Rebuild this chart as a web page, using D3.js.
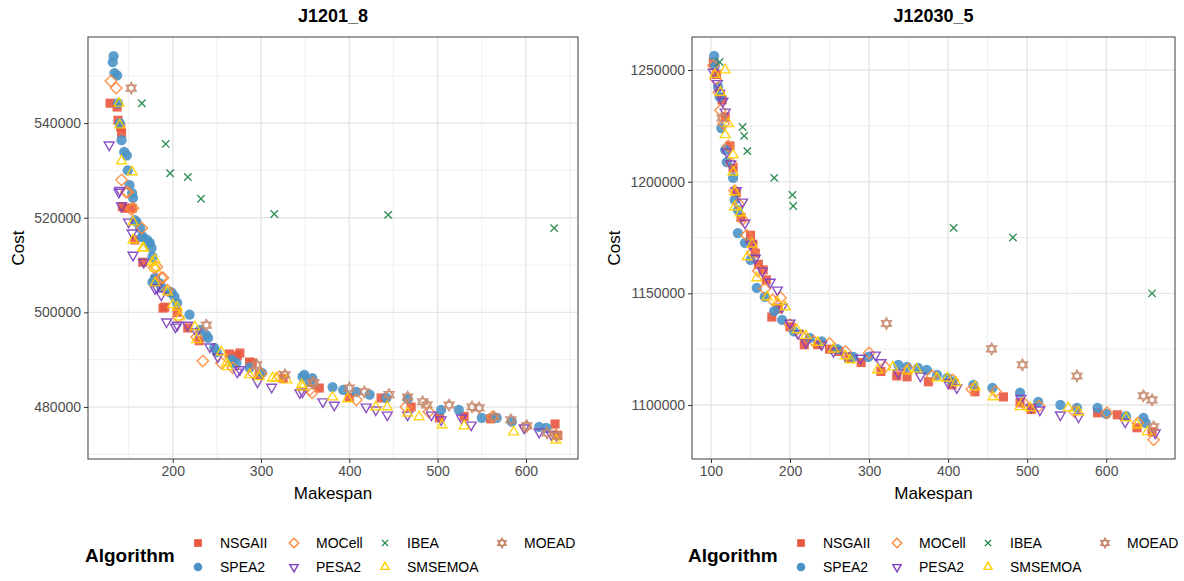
<!DOCTYPE html>
<html>
<head>
<meta charset="utf-8">
<script src="https://cdn.jsdelivr.net/npm/d3@7"></script>
<style>
  body { margin: 0; background: #fff; }
  svg { font-family: "Liberation Sans", Arial, sans-serif; }
</style>
</head>
<body>
<script>
//Data: [makespan, cost] per algorithm and instance
const algorithms = ["NSGAII", "SPEA2", "MOCell", "PESA2", "IBEA", "SMSEMOA", "MOEAD"];

const j1201NSGAII = [[129,544200],[137,543400],[138,540600],[141,539200],[142,537900],[143,522300],[146,522000],[154,522000],[157,515300],[166,510600],[180,507000],[189,500900],[191,501100],[205,500000],[217,496700],[230,494000],[264,491200],[273,490800],[276,491400],[287,489500],[290,489300],[298,486800],[325,486000],[366,484000],[400,482000],[436,481900],[470,480000],[502,477700],[530,478000],[560,477500],[633,476400],[636,474000]];
const j1201SPEA2 = [[133,554150],[132,552900],[134,550560],[137,550100],[138,544200],[140,540000],[142,536400],[145,533900],[148,533200],[149,530000],[151,526900],[154,525200],[155,524200],[157,519500],[159,519100],[163,517800],[165,515900],[166,516000],[171,515300],[172,514600],[174,514700],[176,513600],[177,511700],[177,506400],[180,507300],[185,506200],[187,505400],[197,504300],[199,504100],[202,503300],[205,502000],[219,499500],[231,496300],[238,495200],[240,494600],[247,492500],[250,491600],[267,490000],[268,489300],[272,489300],[287,488300],[301,487200],[347,486400],[349,486800],[355,485300],[358,486100],[381,484200],[393,483600],[408,483200],[423,482600],[442,481900],[466,481700],[504,479400],[524,479400],[550,477700],[567,477700],[584,476900],[615,475800],[623,475600]];
const j1201MOCell = [[130,548900],[136,547400],[142,528000],[147,525400],[149,525400],[153,521800],[155,522000],[165,517800],[179,509400],[182,509600],[187,507300],[189,507300],[194,504700],[206,499000],[227,494800],[234,489700],[255,489300],[268,488300],[291,487200],[300,487000],[321,486400],[355,483600],[358,483000],[408,481500],[464,480000],[490,479000],[562,477900],[600,475800],[634,474100]];
const j1201PESA2 = [[128,535400],[139,525400],[140,525800],[142,522500],[150,519100],[154,516800],[155,512100],[167,510600],[180,505000],[182,505200],[187,503700],[193,498000],[203,496900],[205,497300],[217,497300],[227,495900],[242,492700],[251,490600],[273,487400],[276,487900],[296,485300],[312,484200],[344,483000],[347,483200],[370,481100],[383,480400],[419,480000],[430,479400],[443,478300],[466,478300],[493,478300],[504,477300],[527,477700],[538,476200],[598,475600],[615,474700],[629,474100]];
const j1201IBEA = [[165,544200],[192,535600],[197,529400],[217,528600],[232,524000],[315,520800],[444,520600],[632,517800]];
const j1201SMSEMOA = [[139,544200],[140,539600],[142,532000],[154,529700],[155,519100],[155,515300],[166,513600],[167,513600],[177,510600],[180,511100],[180,509400],[180,506200],[194,504300],[200,501600],[205,501100],[208,499000],[225,496900],[227,494200],[255,491600],[261,489300],[262,488500],[287,486800],[298,486400],[313,486100],[317,486100],[329,485700],[346,484700],[347,484200],[381,482100],[398,481700],[430,480000],[443,480000],[466,478700],[479,477900],[505,476200],[530,476000],[586,474700],[634,473000]];
const j1201MOEAD = [[153,547400],[238,497300],[295,488900],[327,486800],[358,485100],[360,485100],[400,484000],[417,483200],[445,482600],[466,482100],[483,481100],[488,480400],[513,480400],[539,480000],[547,479800],[564,477900],[583,477300],[601,476000],[624,474500],[635,473900]];

const j12030NSGAII = [[103,1253600],[107,1248000],[114,1236600],[118,1229000],[124,1216000],[128,1206100],[132,1195000],[138,1184000],[150,1176000],[153,1172000],[156,1168000],[160,1163000],[166,1160500],[170,1156000],[177,1139400],[185,1143000],[200,1135000],[218,1127000],[235,1127000],[250,1125000],[262,1124000],[275,1121000],[290,1119000],[315,1115000],[335,1113000],[348,1112600],[375,1110400],[405,1109000],[434,1105900],[470,1103600],[491,1101000],[505,1098000],[589,1096500],[614,1095600],[639,1089800],[658,1088000]];
const j12030SPEA2 = [[104,1256300],[105,1252200],[109,1242400],[111,1238000],[113,1224000],[118,1214200],[120,1208800],[128,1201700],[130,1191800],[134,1187300],[134,1177000],[143,1172600],[150,1165000],[158,1152400],[168,1148400],[180,1142000],[190,1138100],[205,1133000],[225,1130000],[240,1128500],[260,1125000],[280,1121500],[299,1121500],[337,1118000],[348,1117100],[362,1116600],[373,1115700],[386,1113500],[399,1112100],[406,1110400],[432,1109000],[456,1107700],[491,1105500],[514,1101400],[542,1100000],[563,1098700],[589,1098700],[600,1096000],[625,1095000],[647,1094200],[650,1092000]];
const j12030MOCell = [[103,1252000],[106,1246000],[110,1240000],[112,1232000],[116,1226000],[122,1216000],[126,1208000],[130,1196000],[135,1190000],[140,1183000],[145,1176000],[152,1168000],[160,1160000],[168,1152000],[178,1147000],[188,1148000],[200,1136000],[215,1131000],[230,1128500],[250,1127500],[270,1124000],[300,1123300],[320,1117000],[350,1116000],[380,1113000],[406,1111200],[430,1107000],[460,1106000],[495,1101000],[515,1099500],[560,1097000],[601,1096500],[640,1092000],[660,1084400]];
const j12030PESA2 = [[103,1249100],[108,1244000],[111,1239700],[115,1236000],[118,1231200],[120,1213300],[125,1208000],[132,1196000],[140,1190900],[143,1181500],[150,1172000],[156,1165800],[165,1160000],[175,1155000],[184,1151500],[190,1143900],[200,1136700],[210,1132000],[220,1128000],[240,1127000],[255,1124000],[270,1122000],[289,1121000],[308,1122400],[315,1119000],[337,1114400],[365,1113000],[400,1110000],[411,1107700],[492,1103000],[505,1099000],[516,1097800],[542,1095600],[565,1094700],[624,1092400],[662,1087500]];
const j12030IBEA = [[111,1253600],[140,1224500],[142,1220500],[146,1213700],[180,1201700],[203,1194100],[204,1189100],[407,1179300],[482,1175000],[658,1150000]];
const j12030SMSEMOA = [[118,1250000],[105,1248000],[112,1240000],[118,1221000],[122,1226000],[128,1212000],[128,1204300],[130,1195400],[130,1188700],[137,1186000],[146,1166300],[152,1172000],[158,1156900],[171,1148400],[184,1146200],[194,1143900],[209,1133600],[220,1131000],[235,1128000],[255,1125000],[270,1122000],[276,1120200],[311,1115700],[330,1117000],[348,1115200],[360,1116000],[386,1112100],[399,1112000],[410,1110000],[434,1108100],[457,1103600],[491,1099200],[504,1098700],[552,1098700],[565,1096900],[625,1094200],[639,1091100],[652,1088000]];
const j12030MOEAD = [[114,1228500],[322,1136500],[455,1125100],[494,1118000],[563,1113000],[647,1104100],[658,1102300],[660,1090200]];

//Tick labels
const j1201XTicks = [200, 300, 400, 500, 600];
const j1201YTicks = [480000, 500000, 520000, 540000];
const j12030XTicks = [100, 200, 300, 400, 500, 600];
const j12030YTicks = [1100000, 1150000, 1200000, 1250000];

//Styles per algorithm
const colors = {NSGAII: "#E9573E", SPEA2: "#4B93C6", MOCell: "#FD8A3B", PESA2: "#7D3FBF",
                IBEA: "#1F8548", SMSEMOA: "#FFCF00", MOEAD: "#C5876A"};
const shapes = {NSGAII: "square", SPEA2: "circle", MOCell: "diamond", PESA2: "down",
                IBEA: "cross", SMSEMOA: "up", MOEAD: "star"};

function shapePath(shape, r) {
    const p = d3.path();
    const tri = (s) => {
        p.moveTo(0, -s * r);
        p.lineTo(0.866 * r, 0.5 * s * r);
        p.lineTo(-0.866 * r, 0.5 * s * r);
        p.closePath();
    };
    if (shape === "square") {
        p.rect(-r * 0.8, -r * 0.8, r * 1.6, r * 1.6);
    } else if (shape === "circle") {
        p.arc(0, 0, r * 0.9, 0, 2 * Math.PI);
    } else if (shape === "diamond") {
        p.moveTo(0, -r); p.lineTo(r, 0); p.lineTo(0, r); p.lineTo(-r, 0); p.closePath();
    } else if (shape === "up") {
        tri(1);
    } else if (shape === "down") {
        tri(-1);
    } else if (shape === "star") {
        tri(1); tri(-1);
    } else if (shape === "cross") {
        const c = r * 0.65;
        p.moveTo(-c, -c); p.lineTo(c, c); p.moveTo(-c, c); p.lineTo(c, -c);
    }
    return p.toString();
}

function styleMark(sel, alg) {
    const filled = shapes[alg] === "square" || shapes[alg] === "circle";
    sel.attr("fill", filled ? colors[alg] : "none")
       .attr("stroke", filled ? "none" : colors[alg])
       .attr("stroke-width", 1.4);
}

//Make the SVG
const svg = d3.select("body")
              .append("svg")
              .attr("width", 1184)
              .attr("height", 581);

function drawPanel(cfg) {
    const x = d3.scaleLinear().domain(cfg.xDomain).range([cfg.left, cfg.right]);
    const y = d3.scaleLinear().domain(cfg.yDomain).range([cfg.bottom, cfg.top]);
    const g = svg.append("g");

    //Gridlines (minor then major)
    const xMinor = cfg.xTicks.map(t => t - cfg.xStep / 2).concat([cfg.xTicks[cfg.xTicks.length - 1] + cfg.xStep / 2])
                     .filter(t => t > cfg.xDomain[0] && t < cfg.xDomain[1]);
    const yMinor = cfg.yTicks.map(t => t - cfg.yStep / 2).concat([cfg.yTicks[cfg.yTicks.length - 1] + cfg.yStep / 2])
                     .filter(t => t > cfg.yDomain[0] && t < cfg.yDomain[1]);

    g.selectAll(".vminor").data(xMinor).enter().append("line")
        .attr("x1", d => x(d)).attr("x2", d => x(d))
        .attr("y1", cfg.top).attr("y2", cfg.bottom)
        .attr("stroke", "#EBEBEB").attr("stroke-width", 0.8);
    g.selectAll(".hminor").data(yMinor).enter().append("line")
        .attr("y1", d => y(d)).attr("y2", d => y(d))
        .attr("x1", cfg.left).attr("x2", cfg.right)
        .attr("stroke", "#EBEBEB").attr("stroke-width", 0.8);
    g.selectAll(".vmajor").data(cfg.xTicks).enter().append("line")
        .attr("x1", d => x(d)).attr("x2", d => x(d))
        .attr("y1", cfg.top).attr("y2", cfg.bottom)
        .attr("stroke", "#E6E6E6").attr("stroke-width", 1.4);
    g.selectAll(".hmajor").data(cfg.yTicks).enter().append("line")
        .attr("y1", d => y(d)).attr("y2", d => y(d))
        .attr("x1", cfg.left).attr("x2", cfg.right)
        .attr("stroke", "#E6E6E6").attr("stroke-width", 1.4);

    //Points
    algorithms.forEach(alg => {
        g.append("g").selectAll("path")
            .data(cfg.series[alg])
            .enter()
            .append("path")
            .attr("transform", d => "translate(" + x(d[0]) + "," + y(d[1]) + ")")
            .attr("d", shapePath(shapes[alg], 5.7))
            .attr("opacity", 0.9)
            .call(styleMark, alg);
    });

    //Border
    g.append("rect")
        .attr("x", cfg.left).attr("y", cfg.top)
        .attr("width", cfg.right - cfg.left).attr("height", cfg.bottom - cfg.top)
        .attr("fill", "none").attr("stroke", "#4D4D4D").attr("stroke-width", 1.1);

    //Axes
    const bottomAxis = d3.axisBottom(x).tickValues(cfg.xTicks).tickSize(4).tickPadding(3).tickFormat(d3.format("d"));
    const leftAxis = d3.axisLeft(y).tickValues(cfg.yTicks).tickSize(4).tickPadding(3).tickFormat(d3.format("d"));

    const xa = g.append("g").attr("transform", "translate(0," + cfg.bottom + ")").call(bottomAxis);
    const ya = g.append("g").attr("transform", "translate(" + cfg.left + ",0)").call(leftAxis);
    [xa, ya].forEach(a => {
        a.select(".domain").remove();
        a.selectAll("line").attr("stroke", "#333");
        a.selectAll("text").attr("fill", "#4D4D4D").style("font-size", "14px")
         .style("font-family", "'Liberation Sans', Arial, sans-serif");
    });

    //Titles
    const cx = (cfg.left + cfg.right) / 2;
    g.append("text").attr("x", cx).attr("y", 22).attr("text-anchor", "middle")
        .style("font-size", "18px").style("font-weight", "bold").text(cfg.title);
    g.append("text").attr("x", cx).attr("y", 499).attr("text-anchor", "middle")
        .style("font-size", "17px").text("Makespan");
    g.append("text")
        .attr("transform", "translate(" + cfg.costX + "," + ((cfg.top + cfg.bottom) / 2) + ") rotate(-90)")
        .attr("text-anchor", "middle").style("font-size", "17px").text("Cost");

    //Legend
    const lg = g.append("g").attr("transform", "translate(" + cfg.legendX + ",0)");
    lg.append("text").attr("x", 0).attr("y", 562)
        .style("font-size", "19px").style("font-weight", "bold").text("Algorithm");
    const colX = [113, 209, 300, 417];
    algorithms.forEach((alg, i) => {
        const col = Math.floor(i / 2), row = i % 2;
        const ky = row === 0 ? 543 : 567;
        lg.append("path")
            .attr("transform", "translate(" + colX[col] + "," + ky + ")")
            .attr("d", shapePath(shapes[alg], 4.8))
            .call(styleMark, alg);
        lg.append("text").attr("x", colX[col] + 22).attr("y", ky + 5)
            .style("font-size", "14px").text(alg);
    });
}

drawPanel({
    title: "J1201_8",
    series: {NSGAII: j1201NSGAII, SPEA2: j1201SPEA2, MOCell: j1201MOCell, PESA2: j1201PESA2,
             IBEA: j1201IBEA, SMSEMOA: j1201SMSEMOA, MOEAD: j1201MOEAD},
    xTicks: j1201XTicks, yTicks: j1201YTicks, xStep: 100, yStep: 20000,
    xDomain: [104, 659], yDomain: [469000, 558200],
    left: 88, right: 578, top: 37, bottom: 459,
    costX: 24, legendX: 85
});

drawPanel({
    title: "J12030_5",
    series: {NSGAII: j12030NSGAII, SPEA2: j12030SPEA2, MOCell: j12030MOCell, PESA2: j12030PESA2,
             IBEA: j12030IBEA, SMSEMOA: j12030SMSEMOA, MOEAD: j12030MOEAD},
    xTicks: j12030XTicks, yTicks: j12030YTicks, xStep: 100, yStep: 50000,
    xDomain: [76, 687], yDomain: [1075800, 1264800],
    left: 692, right: 1175, top: 37, bottom: 459,
    costX: 620, legendX: 688
});
</script>
</body>
</html>
